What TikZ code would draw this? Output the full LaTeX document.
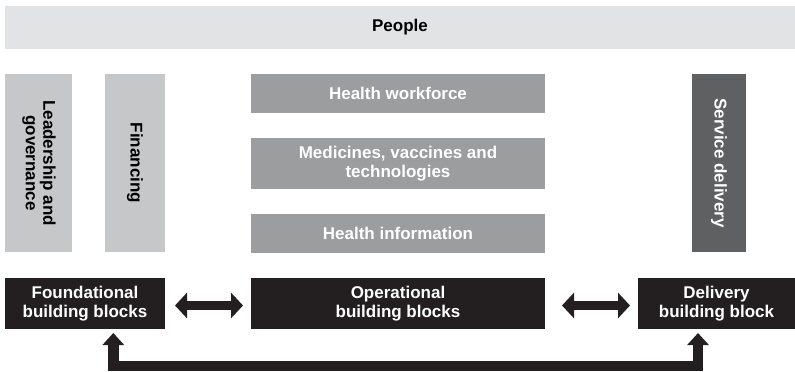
\documentclass[tikz,border=0pt]{standalone}
\usepackage{fontspec}
\setmainfont{Liberation Sans}
\usetikzlibrary{arrows.meta}
\definecolor{cpeople}{HTML}{E2E3E5}
\definecolor{clight}{HTML}{C6C7C9}
\definecolor{cmid}{HTML}{9C9D9F}
\definecolor{cdark}{HTML}{5F6062}
\definecolor{cblack}{HTML}{231F20}
\tikzset{
  blk/.style={rectangle, inner sep=0pt, outer sep=0pt, align=center,
    font=\fontsize{17}{19.5}\selectfont\bfseries},
  lightblk/.style={blk, fill=clight, text=black},
  midblk/.style={blk, fill=cmid, text=white},
  darkblk/.style={blk, fill=cdark, text=white},
  blackblk/.style={blk, fill=cblack, text=white},
  dblarrow/.style={cblack, line width=9pt,
    {Triangle[length=12pt,width=25pt]}-{Triangle[length=12pt,width=25pt]}},
  looparrow/.style={cblack, line width=10.5pt, line join=miter,
    {Triangle[length=12pt,width=21pt]}-{Triangle[length=12pt,width=21pt]},
    shorten <=4pt, shorten >=4pt}
}
\begin{document}
\begin{tikzpicture}[x=1pt,y=-1pt]
\useasboundingbox (0,0) rectangle (795,372);
\node[blk, fill=cpeople, text=black, minimum width=790pt, minimum height=43pt] (people) at (400,27.5) {People};
\node[lightblk, minimum width=67pt, minimum height=178pt] (lead) at (38.5,163) {\rotatebox{-90}{\begin{tabular}{@{}c@{}}Leadership and\\[-2pt]governance\end{tabular}}};
\node[lightblk, minimum width=60pt, minimum height=178pt] (fin) at (135,163) {\rotatebox{-90}{Financing}};
\node[midblk, minimum width=294pt, minimum height=39pt] (hw) at (398,93.5) {Health workforce};
\node[midblk, minimum width=294pt, minimum height=51pt] (med) at (398,163.5) {Medicines, vaccines and\\technologies};
\node[midblk, minimum width=294pt, minimum height=39pt] (hi) at (398,233.5) {Health information};
\node[darkblk, minimum width=54pt, minimum height=178pt] (serv) at (719,163) {\rotatebox{-90}{Service delivery}};
\node[blackblk, minimum width=160pt, minimum height=51pt] (found) at (85,303.5) {Foundational\\building blocks};
\node[blackblk, minimum width=294pt, minimum height=51pt] (oper) at (398,303.5) {Operational\\building blocks};
\node[blackblk, minimum width=157pt, minimum height=51pt] (deliv) at (716.5,303.5) {Delivery\\building block};
\draw[dblarrow, shorten <=10pt, shorten >=8pt] ([yshift=-2pt]found.east) -- ([yshift=-2pt]oper.west);
\draw[dblarrow, shorten <=17pt, shorten >=8pt] ([yshift=-2pt]oper.east) -- ([yshift=-2pt]deliv.west);
\coordinate (bl) at (113.3,366);
\coordinate (br) at (698,366);
\draw[looparrow] (found.south -| bl) -- (bl) -- (br) -- (deliv.south -| br);
\end{tikzpicture}
\end{document}
